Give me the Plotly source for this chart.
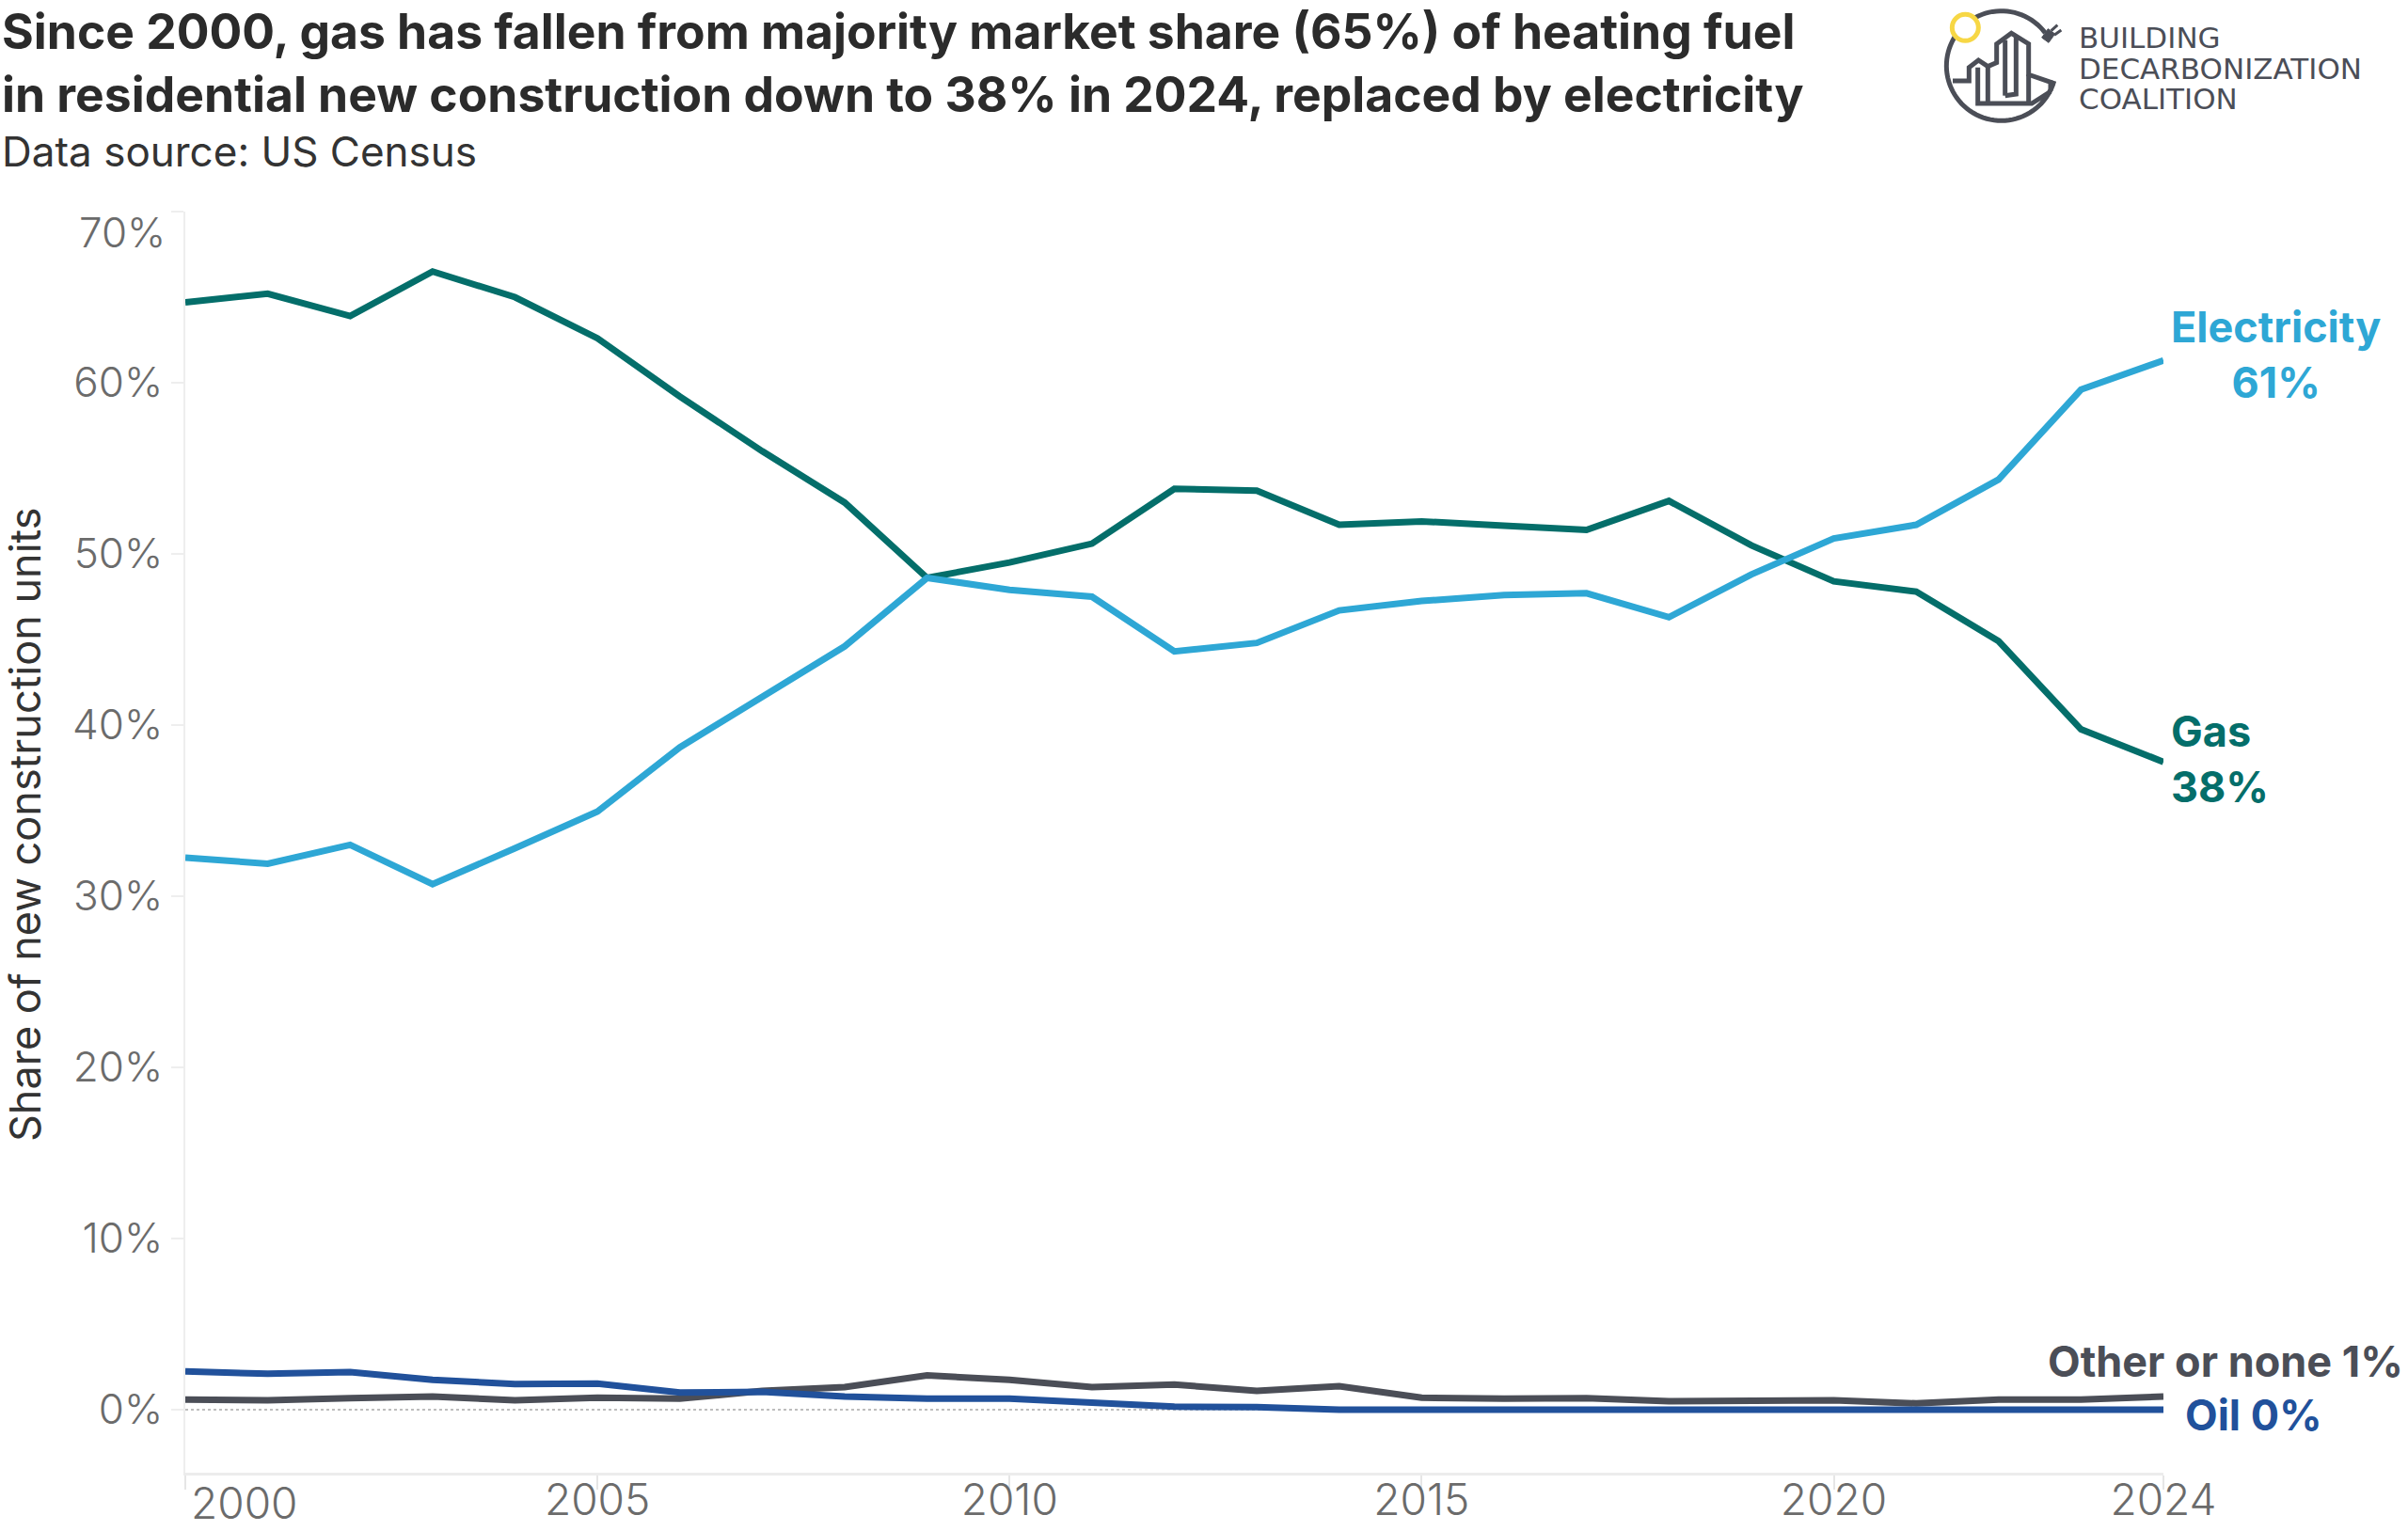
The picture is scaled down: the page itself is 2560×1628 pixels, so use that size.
import numpy as np
import plotly.graph_objects as go

# ---------------- data ----------------
years = list(range(2000, 2025))
gas = [64.7, 65.2, 63.9, 66.5, 65.0, 62.6, 59.2, 56.0, 53.0, 48.6, 49.5, 50.6, 53.8,
       53.7, 51.7, 51.9, 51.65, 51.4, 53.1, 50.5, 48.4, 47.8, 44.9, 39.75, 37.85]
electricity = [32.25, 31.9, 33.0, 30.7, 32.8, 34.95, 38.7, 41.7, 44.6, 48.6, 47.9, 47.5, 44.3,
               44.8, 46.7, 47.25, 47.6, 47.7, 46.3, 48.8, 50.9, 51.7, 54.35, 59.6, 61.3]
oil = [2.24, 2.1, 2.2, 1.74, 1.5, 1.52, 1.0, 1.05, 0.77, 0.64, 0.64, 0.37, 0.18,
       0.15, 0.0, 0.0, 0.0, 0.0, 0.0, 0.0, 0.0, 0.0, 0.0, 0.0, 0.0]
other = [0.59, 0.55, 0.68, 0.77, 0.55, 0.7, 0.64, 1.1, 1.32, 2.0, 1.74, 1.32, 1.47,
         1.1, 1.38, 0.7, 0.64, 0.68, 0.5, 0.55, 0.55, 0.37, 0.59, 0.59, 0.77]

x_tickvals = [2000, 2005, 2010, 2015, 2020, 2024]
y_tickvals = [0, 10, 20, 30, 40, 50, 60, 70]

title_lines = ["Since 2000, gas has fallen from majority market share (65%) of heating fuel",
               "in residential new construction down to 38% in 2024, replaced by electricity"]
subtitle = "Data source: US Census"
y_title = "Share of new construction units"
logo_lines = ["BUILDING", "DECARBONIZATION", "COALITION"]

C_GAS = "#046e6a"
C_ELEC = "#2ea7d5"
C_OIL = "#21519b"
C_OTHER = "#4b4e57"
C_TICK = "#6b6b6b"
C_TEXT = "#333333"

W, H = 2560, 1628
FONT = "Inter"

def px_x(v):
    return v / W

def px_y(v):
    return 1 - v / H

fig = go.Figure()
for name, vals, col in [("Gas", gas, C_GAS), ("Electricity", electricity, C_ELEC),
                        ("Other or none", other, C_OTHER), ("Oil", oil, C_OIL)]:
    fig.add_trace(go.Scatter(x=years, y=vals, mode="lines", name=name,
                             line=dict(color=col, width=7, shape="linear"),
                             hoverinfo="x+y+name"))

# invisible trace to anchor the logo axes
fig.add_trace(go.Scatter(x=[0], y=[0], xaxis="x2", yaxis="y2", mode="markers",
                         marker=dict(opacity=0), hoverinfo="skip", showlegend=False))

fig.update_layout(
    width=W, height=H,
    margin=dict(l=0, r=0, t=0, b=0, pad=0, autoexpand=False),
    paper_bgcolor="white", plot_bgcolor="white",
    showlegend=False,
    font=dict(family=FONT, color=C_TEXT),
    xaxis=dict(domain=[px_x(197), px_x(2300)], range=[2000, 2024],
               tickvals=x_tickvals,
               ticktext=["" if v == 2000 else str(v) for v in x_tickvals],
               ticks="outside", ticklen=15, tickwidth=2, tickcolor="#e6e6e6",
               ticklabelstandoff=-28,
               showline=True, linecolor="#ececec", linewidth=3,
               showgrid=False, zeroline=False, automargin=False,
               tickfont=dict(family=FONT, size=46, color=C_TICK, weight=300)),
    yaxis=dict(domain=[px_y(1566), px_y(225)], range=[-3.68, 70],
               tickvals=y_tickvals,
               ticktext=["" if v == 70 else f"{v}%" for v in y_tickvals],
               ticks="outside", ticklen=13, tickwidth=2, tickcolor="#eeeeee",
               showline=True, linecolor="#eeeeee", linewidth=2,
               showgrid=False, zeroline=False, automargin=False,
               tickfont=dict(family=FONT, size=44, color=C_TICK, weight=300)),
    xaxis2=dict(domain=[px_x(2060), px_x(2200)], range=[0, 420], visible=False,
                anchor="y2", fixedrange=True, automargin=False),
    yaxis2=dict(domain=[px_y(140), px_y(0)], range=[420, 0], visible=False,
                anchor="x2", fixedrange=True, automargin=False),
)

# dotted zero line
fig.add_shape(type="line", xref="x domain", x0=0, x1=1, yref="y", y0=0, y1=0,
              line=dict(color="#bdbdbd", width=2, dash="dot"), layer="below")

ann = []
# title
ann.append(dict(xref="paper", yref="paper", x=0, y=1, xanchor="left", yanchor="top",
                text="<br>".join(title_lines), showarrow=False, align="left",
                font=dict(family=FONT, size=51.6, color="#2b2b2b", weight=700)))
ann.append(dict(xref="paper", yref="paper", x=0, y=px_y(161), xanchor="left", yanchor="middle",
                text=subtitle, showarrow=False,
                font=dict(family=FONT, size=44, color=C_TEXT)))
ann.append(dict(xref="paper", yref="paper", x=px_x(26), y=px_y(877), xanchor="center",
                yanchor="middle", text=y_title, textangle=-90, showarrow=False,
                font=dict(family=FONT, size=45, color=C_TEXT)))
# special tick labels
ann.append(dict(xref="x", yref="paper", x=2000, y=px_y(1598), xanchor="left", yanchor="middle",
                xshift=4, text="2000", showarrow=False,
                font=dict(family=FONT, size=46, color=C_TICK, weight=300)))
ann.append(dict(xref="paper", yref="y", x=px_x(178), y=70, xanchor="right", yanchor="middle",
                yshift=-22, text="70%", showarrow=False,
                font=dict(family=FONT, size=44, color=C_TICK, weight=300)))

# end labels
e_end, g_end, o_end, oil_end = electricity[-1], gas[-1], other[-1], oil[-1]
lab_font = lambda c: dict(family=FONT, size=45, color=c, weight=700)
ann.append(dict(x=2024, y=e_end, xref="x", yref="y", xanchor="left", yanchor="middle",
                xshift=6, yshift=6, align="center",
                text=f"Electricity<br>{round(e_end)}%", showarrow=False, font=lab_font(C_ELEC)))
ann.append(dict(x=2024, y=g_end, xref="x", yref="y", xanchor="left", yanchor="middle",
                xshift=6, yshift=3, align="left",
                text=f"Gas<br>{round(g_end)}%", showarrow=False, font=lab_font(C_GAS)))
ann.append(dict(x=2024, y=o_end, xref="x", yref="y", xanchor="right", yanchor="middle",
                xshift=257, yshift=38, text=f"Other or none {round(o_end)}%", showarrow=False,
                font=lab_font(C_OTHER)))
ann.append(dict(x=2024, y=oil_end, xref="x", yref="y", xanchor="left", yanchor="middle",
                xshift=21, yshift=-5, text=f"Oil {round(oil_end)}%", showarrow=False,
                font=lab_font(C_OIL)))

# logo text
for i, t in enumerate(logo_lines):
    ann.append(dict(xref="paper", yref="paper", x=px_x(2208), y=px_y(40 + 32.5 * i),
                    xanchor="left", yanchor="middle", text=t, showarrow=False,
                    font=dict(family="DejaVu Sans", size=31, color=C_OTHER)))
fig.update_layout(annotations=ann)

# ---------------- logo graphics (zoomed pixel space, 3x of 140px box) ----------------
LG = "#4b4e57"
cx, cy, r = 203, 210, 175
th = np.radians(np.linspace(37, 344, 80))
ring = "M " + " L ".join(f"{cx + r*np.cos(t):.1f},{cy - r*np.sin(t):.1f}" for t in th)
fig.add_shape(type="path", xref="x2", yref="y2", path=ring, line=dict(color=LG, width=5))
# buildings
bpaths = [
    "M 48,258 L 100,258 L 100,215 L 130,192 L 160,212 L 188,200 L 188,140 L 235,106 L 290,140 L 290,238 L 360,262 L 360,290",
    "M 128,215 L 128,330 L 300,330 L 360,292",
    "M 160,214 L 160,330",
    "M 215,128 L 215,305",
    "M 250,118 L 250,300 L 215,305",
    "M 290,238 L 290,330",
]
for p in bpaths:
    fig.add_shape(type="path", xref="x2", yref="y2", path=p, line=dict(color=LG, width=5))
# plug
fig.add_shape(type="path", xref="x2", yref="y2",
              path="M 332,120 L 352,92 L 374,108 L 354,136 Z", fillcolor=LG,
              line=dict(color=LG, width=1))
fig.add_shape(type="path", xref="x2", yref="y2", path="M 362,98 L 382,80",
              line=dict(color=LG, width=3))
fig.add_shape(type="path", xref="x2", yref="y2", path="M 372,112 L 394,96",
              line=dict(color=LG, width=3))
# sun ring
fig.add_shape(type="circle", xref="x2", yref="y2", x0=46, x1=130, y0=46, y1=130,
              line=dict(color="#f7d745", width=5), fillcolor="white")

fig.write_html("out.html")
